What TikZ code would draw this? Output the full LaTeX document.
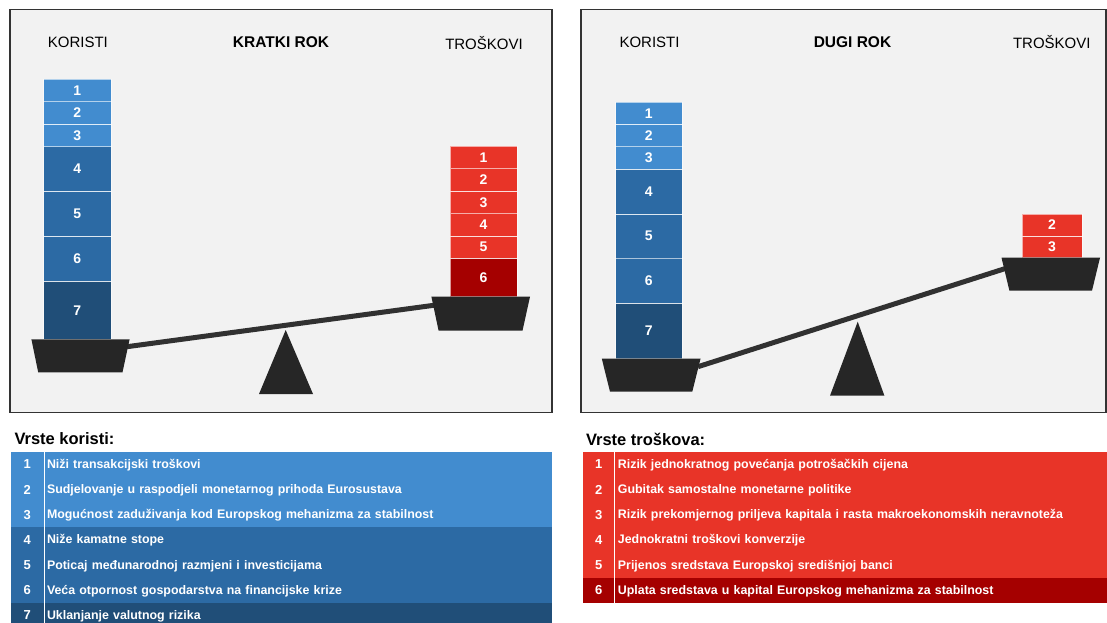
\documentclass[tikz,border=0pt]{standalone}
\usepackage{fontspec}
\setmainfont{Liberation Sans}
\usetikzlibrary{positioning}
\definecolor{panelbg}{HTML}{F2F2F2}
\definecolor{panelline}{HTML}{333333}
\definecolor{bluelight}{HTML}{428CCF}
\definecolor{bluemid}{HTML}{2C6AA4}
\definecolor{bluedark}{HTML}{204E78}
\definecolor{redlight}{HTML}{E83428}
\definecolor{reddark}{HTML}{A50000}
\definecolor{scaleblack}{HTML}{262626}

\begin{document}
\begin{tikzpicture}[x=1pt,y=-1pt,
    panel/.style={fill=panelbg,draw=panelline,line width=1.5pt},
    heading/.style={font=\fontsize{15}{15}\selectfont},
    block/.style={
    % The shape:
    rectangle,inner sep=0pt,outer sep=0pt,
    % The rest
    draw=white,draw opacity=0.6,line width=0.8pt,
    text=white,font=\fontsize{14}{14}\selectfont\bfseries},
    pan/.style={fill=scaleblack},
    beam/.style={draw=scaleblack!95!white,line width=5pt},
    numcell/.style={rectangle,inner sep=0pt,outer sep=0pt,
    minimum height=25.2pt,text=white,font=\fontsize{13}{13}\selectfont\bfseries},
    txtcell/.style={rectangle,inner xsep=3pt,inner ysep=0pt,outer sep=0pt,
    minimum height=25.2pt,align=left,text height=10pt,text depth=2pt,
    text=white,font=\fontsize{12.4}{14}\selectfont\bfseries},
    sep/.style={draw=white,line width=1pt},
    caption/.style={anchor=west,font=\fontsize{16.5}{16}\selectfont\bfseries}]
    \useasboundingbox (0,0) rectangle (1107,623);

    % kratki rok
    \draw[panel] (10,9.5) rectangle (552,412.5);
    \node[heading] (kkor) at (77.9,42.7) {KORISTI};
    \node[heading,font=\fontsize{15.5}{15}\selectfont\bfseries] (krok) at (281,42) {KRATKI ROK};
    \node[heading] (ktro) at (484,43) {TROŠKOVI};

    \node[block,fill=bluedark,minimum width=67.4pt,minimum height=58.3pt] (kb7) at (77.3,310.2) {7};
    \node[block,fill=bluemid,minimum width=67.4pt,minimum height=44.8pt,above=0pt of kb7] (kb6) {6};
    \node[block,fill=bluemid,minimum width=67.4pt,minimum height=44.8pt,above=0pt of kb6] (kb5) {5};
    \node[block,fill=bluemid,minimum width=67.4pt,minimum height=44.8pt,above=0pt of kb5] (kb4) {4};
    \node[block,fill=bluelight,minimum width=67.4pt,minimum height=22.4pt,above=0pt of kb4] (kb3) {3};
    \node[block,fill=bluelight,minimum width=67.4pt,minimum height=22.4pt,above=0pt of kb3] (kb2) {2};
    \node[block,fill=bluelight,minimum width=67.4pt,minimum height=22.4pt,above=0pt of kb2] (kb1) {1};

    \node[block,fill=reddark,minimum width=67pt,minimum height=38.4pt] (kr6) at (483.5,277.5) {6};
    \node[block,fill=redlight,minimum width=67pt,minimum height=22.4pt,above=0pt of kr6] (kr5) {5};
    \node[block,fill=redlight,minimum width=67pt,minimum height=22.4pt,above=0pt of kr5] (kr4) {4};
    \node[block,fill=redlight,minimum width=67pt,minimum height=22.4pt,above=0pt of kr4] (kr3) {3};
    \node[block,fill=redlight,minimum width=67pt,minimum height=22.4pt,above=0pt of kr3] (kr2) {2};
    \node[block,fill=redlight,minimum width=67pt,minimum height=22.4pt,above=0pt of kr2] (kr1) {1};

    \coordinate (kbeamL) at (127,346.7);
    \coordinate (kbeamR) at (436,305);
    \draw[beam] (kbeamL) -- (kbeamR);
    \fill[pan] (31.4,339.3) -- (129.6,339.3) -- (122.5,372.3) -- (38.2,372.3) -- cycle;
    \fill[pan] (431.4,296.7) -- (530,296.7) -- (522.5,330.7) -- (438.6,330.7) -- cycle;
    \fill[pan] (285.7,330) -- (313,394) -- (259,394) -- cycle;

    % dugi rok
    \draw[panel] (581,9.5) rectangle (1106,412.5);
    \node[heading] (dkor) at (649.5,42.5) {KORISTI};
    \node[heading,font=\fontsize{15.5}{15}\selectfont\bfseries] (drok) at (852.5,42) {DUGI ROK};
    \node[heading] (dtro) at (1051.8,42.5) {TROŠKOVI};

    \node[block,fill=bluedark,minimum width=66.5pt,minimum height=55.4pt] (db7) at (648.75,331) {7};
    \node[block,fill=bluemid,minimum width=66.5pt,minimum height=44.7pt,above=0pt of db7] (db6) {6};
    \node[block,fill=bluemid,minimum width=66.5pt,minimum height=44.7pt,above=0pt of db6] (db5) {5};
    \node[block,fill=bluemid,minimum width=66.5pt,minimum height=44.7pt,above=0pt of db5] (db4) {4};
    \node[block,fill=bluelight,minimum width=66.5pt,minimum height=22.4pt,above=0pt of db4] (db3) {3};
    \node[block,fill=bluelight,minimum width=66.5pt,minimum height=22.4pt,above=0pt of db3] (db2) {2};
    \node[block,fill=bluelight,minimum width=66.5pt,minimum height=22.4pt,above=0pt of db2] (db1) {1};

    \node[block,fill=redlight,minimum width=60pt,minimum height=21.7pt] (dr3) at (1052,246.8) {3};
    \node[block,fill=redlight,minimum width=60pt,minimum height=21.7pt,above=0pt of dr3] (dr2) {2};

    \coordinate (dbeamL) at (698,366.7);
    \coordinate (dbeamR) at (1006,268.3);
    \draw[beam] (dbeamL) -- (dbeamR);
    \fill[pan] (601.8,358.7) -- (700.5,358.7) -- (692.3,391.7) -- (610,391.7) -- cycle;
    \fill[pan] (1001.5,257.7) -- (1100,257.7) -- (1092,290.7) -- (1009.4,290.7) -- cycle;
    \fill[pan] (857.7,321.7) -- (884.4,395.7) -- (830,395.7) -- cycle;

    % vrste koristi
    \node[caption] (kcap) at (11,439) {Vrste koristi:};
    \node[numcell,fill=bluelight,minimum width=33.3pt] (kn1) at (27.35,464.3) {1};
    \node[txtcell,fill=bluelight,text width=502pt,right=0pt of kn1] (kt1) {Niži transakcijski troškovi};
    \node[numcell,fill=bluelight,minimum width=33.3pt,below=0pt of kn1] (kn2) {2};
    \node[txtcell,fill=bluelight,text width=502pt,right=0pt of kn2] (kt2) {Sudjelovanje u raspodjeli monetarnog prihoda Eurosustava};
    \node[numcell,fill=bluelight,minimum width=33.3pt,below=0pt of kn2] (kn3) {3};
    \node[txtcell,fill=bluelight,text width=502pt,right=0pt of kn3] (kt3) {Mogućnost zaduživanja kod Europskog mehanizma za stabilnost};
    \node[numcell,fill=bluemid,minimum width=33.3pt,below=0pt of kn3] (kn4) {4};
    \node[txtcell,fill=bluemid,text width=502pt,right=0pt of kn4] (kt4) {Niže kamatne stope};
    \node[numcell,fill=bluemid,minimum width=33.3pt,below=0pt of kn4] (kn5) {5};
    \node[txtcell,fill=bluemid,text width=502pt,right=0pt of kn5] (kt5) {Poticaj međunarodnoj razmjeni i investicijama};
    \node[numcell,fill=bluemid,minimum width=33.3pt,below=0pt of kn5] (kn6) {6};
    \node[txtcell,fill=bluemid,text width=502pt,right=0pt of kn6] (kt6) {Veća otpornost gospodarstva na financijske krize};
    \node[numcell,fill=bluedark,minimum width=33.3pt,below=0pt of kn6] (kn7) {7};
    \node[txtcell,fill=bluedark,text width=502pt,right=0pt of kn7] (kt7) {Uklanjanje valutnog rizika};
    \draw[sep] (kn1.north east) -- (kn7.south east);

    % vrste troskova
    \node[caption] (dcap) at (582.5,439) {Vrste troškova:};
    \node[numcell,fill=redlight,minimum width=32.2pt] (dn1) at (598.8,464.3) {1};
    \node[txtcell,fill=redlight,text width=486pt,right=0pt of dn1] (dt1) {Rizik jednokratnog povećanja potrošačkih cijena};
    \node[numcell,fill=redlight,minimum width=32.2pt,below=0pt of dn1] (dn2) {2};
    \node[txtcell,fill=redlight,text width=486pt,right=0pt of dn2] (dt2) {Gubitak samostalne monetarne politike};
    \node[numcell,fill=redlight,minimum width=32.2pt,below=0pt of dn2] (dn3) {3};
    \node[txtcell,fill=redlight,text width=486pt,right=0pt of dn3] (dt3) {Rizik prekomjernog priljeva kapitala i rasta makroekonomskih neravnoteža};
    \node[numcell,fill=redlight,minimum width=32.2pt,below=0pt of dn3] (dn4) {4};
    \node[txtcell,fill=redlight,text width=486pt,right=0pt of dn4] (dt4) {Jednokratni troškovi konverzije};
    \node[numcell,fill=redlight,minimum width=32.2pt,below=0pt of dn4] (dn5) {5};
    \node[txtcell,fill=redlight,text width=486pt,right=0pt of dn5] (dt5) {Prijenos sredstava Europskoj središnjoj banci};
    \node[numcell,fill=reddark,minimum width=32.2pt,below=0pt of dn5] (dn6) {6};
    \node[txtcell,fill=reddark,text width=486pt,right=0pt of dn6] (dt6) {Uplata sredstava u kapital Europskog mehanizma za stabilnost};
    \draw[sep] (dn1.north east) -- (dn6.south east);
\end{tikzpicture}
\end{document}
